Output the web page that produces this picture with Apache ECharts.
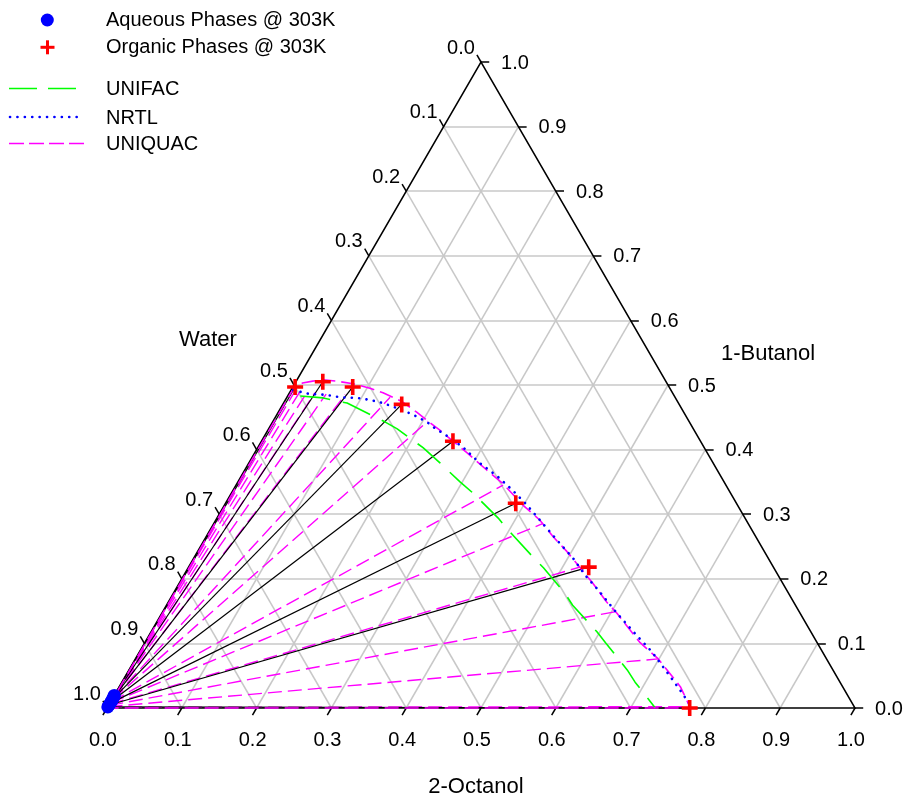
<!DOCTYPE html>
<html>
<head>
<meta charset="utf-8">
<title>Ternary LLE 303K</title>
<script src="https://cdn.jsdelivr.net/npm/echarts@6/dist/echarts.min.js"></script>
<style>
	html, body { margin: 0; padding: 0; background: #ffffff; }
	#ternaryChart { width: 908px; height: 796px; }
</style>
</head>
<body>
<div id="ternaryChart"></div>
<script>
	// compositions as [2-Octanol, 1-Butanol] mole fractions, water is the rest
	var aqueousPhases = [[0.0000, 0.0195], [0.0003, 0.0178], [0.0005, 0.0158], [0.0007, 0.0134],
		[0.0008, 0.0106], [0.0008, 0.0076], [0.0006, 0.0046], [0.0003, 0.0016]];
	var organicPhases = [[0.003, 0.497], [0.036, 0.505], [0.080, 0.497], [0.159, 0.470],
		[0.256, 0.413], [0.388, 0.317], [0.535, 0.218], [0.779, 0.000]];

	var unifacCurve = [[0.017, 0.483], [0.049, 0.480], [0.085, 0.472], [0.103, 0.464], [0.150, 0.443],
		[0.172, 0.432], [0.221, 0.403], [0.256, 0.379], [0.297, 0.350], [0.321, 0.334], [0.376, 0.294],
		[0.398, 0.276], [0.451, 0.235], [0.475, 0.217], [0.523, 0.178], [0.543, 0.159], [0.596, 0.118],
		[0.616, 0.101], [0.666, 0.059], [0.686, 0.040], [0.733, 0.000]];

	var nrtlCurve = [[0.003, 0.492], [0.028, 0.486], [0.049, 0.485], [0.071, 0.481], [0.094, 0.480],
		[0.113, 0.477], [0.133, 0.472], [0.165, 0.461], [0.182, 0.454], [0.206, 0.443], [0.222, 0.433],
		[0.250, 0.418], [0.275, 0.403], [0.309, 0.379], [0.342, 0.359], [0.371, 0.339], [0.402, 0.316],
		[0.448, 0.279], [0.479, 0.254], [0.507, 0.232], [0.536, 0.206], [0.565, 0.183], [0.608, 0.147],
		[0.655, 0.110], [0.685, 0.087], [0.726, 0.051], [0.752, 0.028], [0.777, 0.005], [0.781, 0.000]];

	var uniquacCurve = [[0.000, 0.000], [0.001, 0.020], [0.002, 0.498], [0.010, 0.503], [0.022, 0.506],
		[0.035, 0.508], [0.054, 0.506], [0.078, 0.502], [0.104, 0.495], [0.125, 0.488], [0.158, 0.474],
		[0.185, 0.458], [0.207, 0.444], [0.230, 0.430], [0.256, 0.413], [0.284, 0.395], [0.324, 0.368],
		[0.356, 0.347], [0.399, 0.314], [0.433, 0.291], [0.464, 0.265], [0.494, 0.242], [0.523, 0.218],
		[0.552, 0.194], [0.586, 0.164], [0.608, 0.147], [0.661, 0.102], [0.699, 0.076], [0.750, 0.033],
		[0.780, 0.000], [0.000, 0.000]];

	// UNIQUAC tie lines (aqueous end / organic end)
	var uniquacTieAqueous = [[0.001, 0.022], [0.001, 0.021], [0.001, 0.020], [0.001, 0.019], [0.001, 0.018],
		[0.001, 0.017], [0.001, 0.015], [0.001, 0.013], [0.001, 0.010], [0.001, 0.008], [0.001, 0.006],
		[0.001, 0.004], [0.001, 0.002], [0.001, 0.001]];
	var uniquacTieOrganic = [[0.006, 0.495], [0.013, 0.492], [0.023, 0.489], [0.034, 0.488], [0.050, 0.486],
		[0.076, 0.485], [0.138, 0.481], [0.207, 0.444], [0.357, 0.345], [0.439, 0.285], [0.523, 0.218],
		[0.605, 0.149], [0.699, 0.076], [0.779, 0.002]];

	var tickValues = [0, 0.1, 0.2, 0.3, 0.4, 0.5, 0.6, 0.7, 0.8, 0.9, 1.0];
	var tickLabels = ['0.0', '0.1', '0.2', '0.3', '0.4', '0.5', '0.6', '0.7', '0.8', '0.9', '1.0'];

	var fontFamily = '"Liberation Sans", Arial, sans-serif';
	var tickLen = 0.011;

	// ternary -> cartesian (x along 2-Octanol axis, y = 1-Butanol height)
	function toXY(p) {
		return [p[0] + p[1] / 2, p[1]];
	}

	var gridSegments = [];
	var tickSegments = [];
	var bottomLabels = [];
	var rightLabels = [];
	var leftLabels = [];

	tickValues.forEach(function(v, i){
		// 2-Octanol (bottom)
		var pB = toXY([v, 0]);
		tickSegments.push({ coords: [pB, [pB[0] - tickLen / 2, -tickLen]] });
		bottomLabels.push({ name: tickLabels[i], value: pB });

		// 1-Butanol (right)
		var pR = toXY([1 - v, v]);
		tickSegments.push({ coords: [pR, [pR[0] + tickLen, pR[1]]] });
		rightLabels.push({ name: tickLabels[i], value: pR });

		// Water (left)
		var pL = toXY([0, 1 - v]);
		tickSegments.push({ coords: [pL, [pL[0] - tickLen / 2, pL[1] + tickLen]] });
		leftLabels.push({ name: tickLabels[i], value: pL });

		if(v > 0 && v < 1){
			gridSegments.push({ coords: [toXY([0, v]), toXY([1 - v, v])] });
			gridSegments.push({ coords: [toXY([v, 0]), toXY([v, 1 - v])] });
			gridSegments.push({ coords: [toXY([v, 0]), toXY([0, v])] });
		}
	});

	var experimentalTies = aqueousPhases.map(function(aq, i){
		return { coords: [toXY(aq), toXY(organicPhases[i])] };
	});

	var uniquacTies = uniquacTieAqueous.map(function(aq, i){
		return { coords: [toXY(aq), toXY(uniquacTieOrganic[i])] };
	});

	var plusSymbol = 'path://M6.2,0h3.6v6.2h6.2v3.6h-6.2v6.2h-3.6v-6.2h-6.2v-3.6h6.2z';

	function labelSeries(data, offset){
		return {
			type: 'scatter',
			silent: true,
			symbolSize: 0,
			itemStyle: { color: '#ffffff', opacity: 1 },
			data: data,
			z: 6,
			label: {
				show: true,
				position: [0, 0],
				offset: offset,
				align: 'center',
				verticalAlign: 'middle',
				formatter: '{b}',
				color: '#000000',
				opacity: 1,
				textBorderWidth: 0,
				fontSize: 20,
				fontFamily: fontFamily
			}
		};
	}

	function legendText(text, y){
		return {
			type: 'text', x: 106, y: y,
			style: { text: text, fill: '#000000', fontSize: 20, fontFamily: fontFamily, verticalAlign: 'middle' }
		};
	}

	var chart = echarts.init(document.getElementById('ternaryChart'));

	var option = {
		animation: false,
		backgroundColor: '#ffffff',
		grid: { left: 69.6, right: 15.6, top: 29.7, bottom: 55.7 },
		xAxis: { type: 'value', min: -0.05, max: 1.05, show: false },
		yAxis: { type: 'value', min: -0.05, max: 1.05, show: false },
		graphic: [
			{ type: 'text', x: 208, y: 340, style: { text: 'Water', fill: '#000', fontSize: 22, fontFamily: fontFamily, align: 'center', verticalAlign: 'middle' } },
			{ type: 'text', x: 768, y: 354, style: { text: '1-Butanol', fill: '#000', fontSize: 22, fontFamily: fontFamily, align: 'center', verticalAlign: 'middle' } },
			{ type: 'text', x: 476, y: 787, style: { text: '2-Octanol', fill: '#000', fontSize: 22, fontFamily: fontFamily, align: 'center', verticalAlign: 'middle' } },

			// legend
			{ type: 'circle', shape: { cx: 47.3, cy: 20, r: 6.5 }, style: { fill: '#0000ff' } },
			{ type: 'rect', shape: { x: 40.5, y: 45.8, width: 14, height: 3 }, style: { fill: '#ff0000' } },
			{ type: 'rect', shape: { x: 46, y: 40.3, width: 3, height: 14 }, style: { fill: '#ff0000' } },
			{ type: 'line', shape: { x1: 9, y1: 88.5, x2: 77, y2: 88.5 }, style: { stroke: '#00ff00', lineWidth: 1.5, lineDash: [28, 11] } },
			{ type: 'line', shape: { x1: 10, y1: 117, x2: 82, y2: 117 }, style: { stroke: '#0000ff', lineWidth: 2.6, lineDash: [0.1, 7.3], lineCap: 'round' } },
			{ type: 'line', shape: { x1: 9, y1: 143.5, x2: 84, y2: 143.5 }, style: { stroke: '#ff00ff', lineWidth: 1.5, lineDash: [15, 5] } },
			legendText('Aqueous Phases @ 303K', 20),
			legendText('Organic Phases @ 303K', 47.5),
			legendText('UNIFAC', 89),
			legendText('NRTL', 118),
			legendText('UNIQUAC', 144)
		],
		series: [
			{
				name: 'grid',
				type: 'lines',
				coordinateSystem: 'cartesian2d',
				silent: true,
				z: 1,
				lineStyle: { color: '#c8c8c8', width: 1.5, opacity: 1 },
				data: gridSegments
			},
			{
				name: 'frame',
				type: 'lines',
				coordinateSystem: 'cartesian2d',
				polyline: true,
				silent: true,
				z: 2,
				lineStyle: { color: '#000000', width: 1.5, opacity: 1 },
				data: [{ coords: [toXY([0, 0]), toXY([1, 0]), toXY([0, 1]), toXY([0, 0])] }]
			},
			{
				name: 'ticks',
				type: 'lines',
				coordinateSystem: 'cartesian2d',
				silent: true,
				z: 2,
				lineStyle: { color: '#000000', width: 1.5, opacity: 1 },
				data: tickSegments
			},
			{
				name: 'UNIQUAC tie lines',
				type: 'lines',
				coordinateSystem: 'cartesian2d',
				silent: true,
				z: 3,
				lineStyle: { color: '#ff00ff', width: 1.4, type: [14, 6], opacity: 1 },
				data: uniquacTies
			},
			{
				name: 'Experimental tie lines',
				type: 'lines',
				coordinateSystem: 'cartesian2d',
				silent: true,
				z: 3,
				lineStyle: { color: '#000000', width: 1.2, opacity: 1 },
				data: experimentalTies
			},
			{
				name: 'UNIFAC',
				type: 'line',
				silent: true,
				showSymbol: false,
				z: 4,
				lineStyle: { color: '#00ff00', width: 1.6, type: [30, 13] },
				data: unifacCurve.map(toXY)
			},
			{
				name: 'UNIQUAC',
				type: 'line',
				silent: true,
				showSymbol: false,
				z: 4,
				lineStyle: { color: '#ff00ff', width: 1.6, type: [14, 6] },
				data: uniquacCurve.map(toXY)
			},
			{
				name: 'NRTL',
				type: 'line',
				silent: true,
				showSymbol: false,
				z: 4,
				lineStyle: { color: '#0000ff', width: 2.6, type: [0.1, 7.3], cap: 'round' },
				data: nrtlCurve.map(toXY)
			},
			{
				name: 'Aqueous Phases @ 303K',
				type: 'scatter',
				silent: true,
				z: 5,
				symbol: 'circle',
				symbolSize: 13,
				itemStyle: { color: '#0000ff', opacity: 1 },
				data: aqueousPhases.map(toXY)
			},
			{
				name: 'Organic Phases @ 303K',
				type: 'scatter',
				silent: true,
				z: 5,
				symbol: plusSymbol,
				symbolSize: 16,
				itemStyle: { color: '#ff0000', opacity: 1 },
				data: organicPhases.map(toXY)
			},
			labelSeries(bottomLabels, [-4, 32]),
			labelSeries(rightLabels, [34, 1]),
			labelSeries(leftLabels, [-20, -14])
		]
	};

	chart.setOption(option);
</script>
</body>
</html>
